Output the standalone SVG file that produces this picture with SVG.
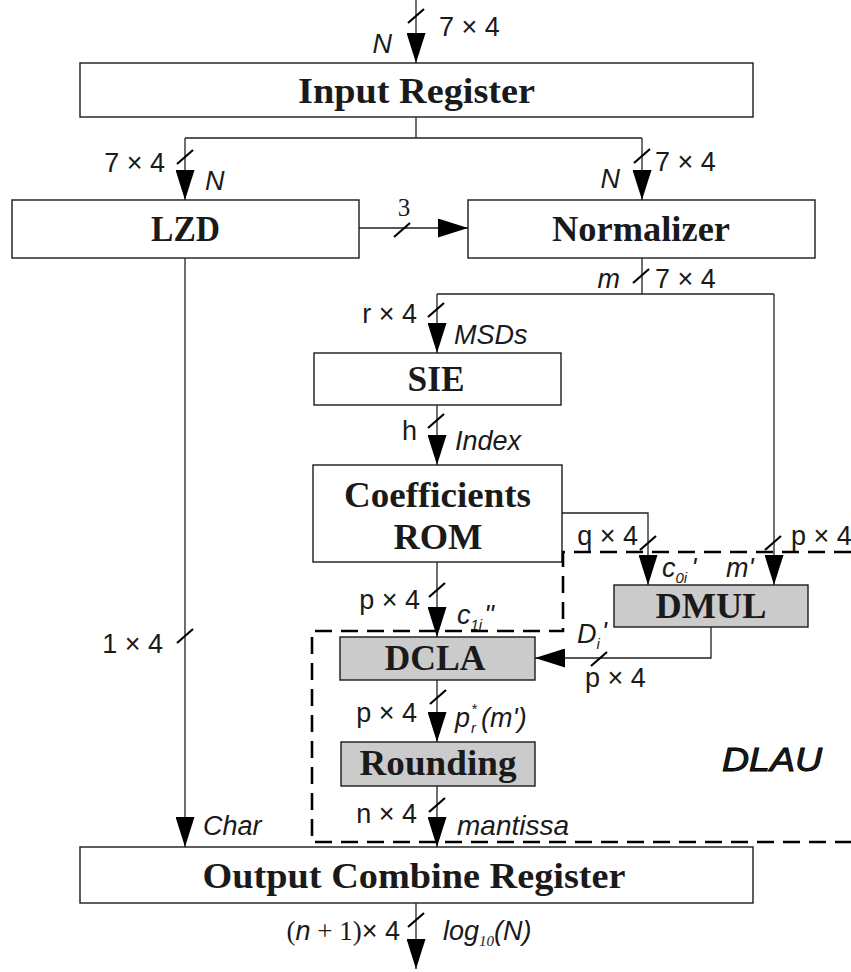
<svg xmlns="http://www.w3.org/2000/svg" xmlns:xlink="http://www.w3.org/1999/xlink" width="851" height="972" viewBox="0 0 851 972">
<style>
.box{fill:#ffffff;stroke:#1a1a1a;stroke-width:1.4}
.gbox{fill:#cbcbcb;stroke:#1a1a1a;stroke-width:1.4}
.title{font-family:"Liberation Serif","Times New Roman",serif;font-weight:bold;font-size:36px;fill:#1a1a1a;text-anchor:middle}
.lbl{font-family:"Liberation Sans",Arial,sans-serif;font-size:27px;fill:#1a1a1a}
.it{font-style:italic}
.sub{font-size:15px}
.serif{font-family:"Liberation Serif","Times New Roman",serif}
.wire{fill:none;stroke:#222;stroke-width:1.3}
.dash{fill:none;stroke:#000;stroke-width:2.6;stroke-dasharray:17 9}
</style>
<defs>
<marker id="ah" markerUnits="userSpaceOnUse" markerWidth="30" markerHeight="19" viewBox="0 0 30 19" refX="30" refY="9.5" orient="auto">
<path d="M0,0 L30,9.5 L0,19 z" fill="#000"/>
</marker>
<path id="sl" d="M-8,7 L8,-7" stroke="#000" stroke-width="2.2" fill="none"/>
</defs>

<g id="input-register">
<rect class="box" x="80" y="63" width="673" height="54"/>
<text class="title" x="416.5" y="103" textLength="237" lengthAdjust="spacingAndGlyphs">Input Register</text>
</g>
<g id="lzd">
<rect class="box" x="12" y="200" width="347" height="58"/>
<text class="title" x="185.5" y="241" textLength="69" lengthAdjust="spacingAndGlyphs">LZD</text>
</g>
<g id="normalizer">
<rect class="box" x="468" y="200" width="347" height="58"/>
<text class="title" x="641" y="241" textLength="178" lengthAdjust="spacingAndGlyphs">Normalizer</text>
</g>
<g id="sie">
<rect class="box" x="314" y="353" width="247" height="52"/>
<text class="title" x="436" y="391" textLength="57" lengthAdjust="spacingAndGlyphs">SIE</text>
</g>
<g id="coefficients-rom">
<rect class="box" x="313" y="465" width="249" height="97"/>
<text class="title" x="437.5" y="507" textLength="187" lengthAdjust="spacingAndGlyphs">Coefficients</text>
<text class="title" x="438" y="549" textLength="89" lengthAdjust="spacingAndGlyphs">ROM</text>
</g>
<g id="dmul">
<rect class="gbox" x="614" y="585" width="194" height="42"/>
<text class="title" x="711" y="618" textLength="111" lengthAdjust="spacingAndGlyphs">DMUL</text>
</g>
<g id="dcla">
<rect class="gbox" x="340" y="637" width="195" height="43"/>
<text class="title" x="435" y="670" textLength="101" lengthAdjust="spacingAndGlyphs">DCLA</text>
</g>
<g id="rounding">
<rect class="gbox" x="341" y="742" width="194" height="44"/>
<text class="title" x="438" y="775" textLength="157" lengthAdjust="spacingAndGlyphs">Rounding</text>
</g>
<g id="output-combine-register">
<rect class="box" x="80" y="847" width="673" height="56"/>
<text class="title" x="414" y="888" textLength="423" lengthAdjust="spacingAndGlyphs">Output Combine Register</text>
</g>

<g id="dlau-region">
<path class="dash" d="M851,552 H563 V631 H312 V842 H851"/>
<text class="lbl it" x="722" y="771" style="font-size:34px;stroke:#000;stroke-width:0.9" textLength="100" lengthAdjust="spacingAndGlyphs">DLAU</text>
</g>

<g id="connectors">
<path class="wire" d="M416,0 V63" marker-end="url(#ah)"/>
<path class="wire" d="M416,117 V138 M185,138 H642"/>
<path class="wire" d="M185,138 V200" marker-end="url(#ah)"/>
<path class="wire" d="M642,138 V200" marker-end="url(#ah)"/>
<path class="wire" d="M359,228 H468" marker-end="url(#ah)"/>
<path class="wire" d="M642,258 V294 M437,294 H774"/>
<path class="wire" d="M437,294 V353" marker-end="url(#ah)"/>
<path class="wire" d="M774,294 V585" marker-end="url(#ah)"/>
<path class="wire" d="M437,405 V465" marker-end="url(#ah)"/>
<path class="wire" d="M562,513 H648 V585" marker-end="url(#ah)"/>
<path class="wire" d="M437,562 V637" marker-end="url(#ah)"/>
<path class="wire" d="M711,627 V658 H535" marker-end="url(#ah)"/>
<path class="wire" d="M437,680 V742" marker-end="url(#ah)"/>
<path class="wire" d="M437,786 V847" marker-end="url(#ah)"/>
<path class="wire" d="M185,258 V847" marker-end="url(#ah)"/>
<path class="wire" d="M416,903 V969" marker-end="url(#ah)"/>

<use xlink:href="#sl" href="#sl" x="416" y="16"/>
<use xlink:href="#sl" href="#sl" x="185" y="157"/>
<use xlink:href="#sl" href="#sl" x="642" y="156"/>
<use xlink:href="#sl" href="#sl" x="402" y="230"/>
<use xlink:href="#sl" href="#sl" x="641" y="276"/>
<use xlink:href="#sl" href="#sl" x="436" y="310"/>
<use xlink:href="#sl" href="#sl" x="436" y="421"/>
<use xlink:href="#sl" href="#sl" x="648" y="543"/>
<use xlink:href="#sl" href="#sl" x="773" y="543"/>
<use xlink:href="#sl" href="#sl" x="437" y="590"/>
<use xlink:href="#sl" href="#sl" x="599" y="659"/>
<use xlink:href="#sl" href="#sl" x="438" y="697"/>
<use xlink:href="#sl" href="#sl" x="437" y="805"/>
<use xlink:href="#sl" href="#sl" x="185" y="636"/>
<use xlink:href="#sl" href="#sl" x="416" y="920"/>

<text class="lbl it" x="392" y="53" text-anchor="end">N</text>
<text class="lbl" x="439" y="36">7 × 4</text>
<text class="lbl" x="165" y="172" text-anchor="end">7 × 4</text>
<text class="lbl it" x="205" y="190">N</text>
<text class="lbl it" x="620" y="188" text-anchor="end">N</text>
<text class="lbl" x="655" y="171">7 × 4</text>
<text class="lbl serif" x="404" y="216" style="font-size:25px" text-anchor="middle">3</text>
<text class="lbl it" x="620" y="288" text-anchor="end">m</text>
<text class="lbl" x="655" y="288">7 × 4</text>
<text class="lbl" x="417" y="323" text-anchor="end">r × 4</text>
<text class="lbl it" x="454" y="344">MSDs</text>
<text class="lbl" x="417" y="440" text-anchor="end">h</text>
<text class="lbl it" x="455" y="450">Index</text>
<text class="lbl" x="638" y="545" text-anchor="end">q × 4</text>
<text class="lbl" x="791" y="545">p × 4</text>
<text class="lbl it" x="662" y="577">c<tspan class="sub" dy="6">0i</tspan><tspan dx="4" dy="-6">'</tspan></text>
<text class="lbl it" x="726" y="577">m'</text>
<text class="lbl" x="420" y="609" text-anchor="end">p × 4</text>
<text class="lbl it" x="457" y="624">c<tspan class="sub" dy="6">1i</tspan><tspan dx="2" dy="-6">"</tspan></text>
<text class="lbl it" x="577" y="643">D<tspan class="sub" dy="6">i</tspan><tspan dx="2" dy="-8">'</tspan></text>
<text class="lbl" x="585" y="687">p × 4</text>
<text class="lbl" x="417" y="722" text-anchor="end">p × 4</text>
<text class="lbl it" x="455" y="727">p<tspan class="sub" x="471" dy="6">r</tspan><tspan class="sub" x="471" dy="-19">*</tspan><tspan x="481" dy="13">(m')</tspan></text>
<text class="lbl it" x="457" y="835" style="font-size:28px">mantissa</text>
<text class="lbl" x="417" y="823" text-anchor="end">n × 4</text>
<text class="lbl" x="163" y="653" text-anchor="end">1 × 4</text>
<text class="lbl it" x="203" y="835">Char</text>
<text class="lbl" x="400" y="940" text-anchor="end"><tspan class="serif">(</tspan><tspan class="it">n</tspan><tspan class="serif"> + 1)</tspan>× 4</text>
<text class="lbl it" x="443" y="940">log<tspan class="sub serif" dy="6">10</tspan><tspan dy="-6">(N)</tspan></text>
</g>
</svg>
